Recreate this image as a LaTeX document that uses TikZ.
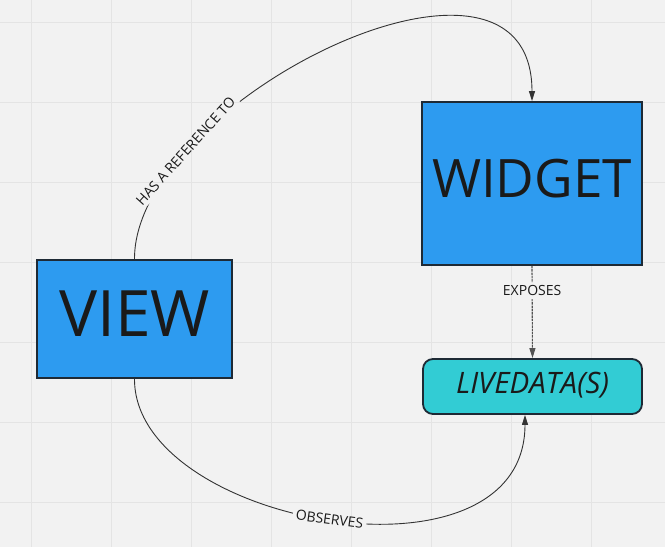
\documentclass[tikz,border=0pt]{standalone}
\usepackage{fontspec}
\setmainfont{Open Sans}
\usetikzlibrary{arrows.meta}
\definecolor{bgc}{HTML}{F2F2F2}
\definecolor{gridc}{HTML}{E4E4E4}
\definecolor{boxblue}{HTML}{2D9BF0}
\definecolor{boxteal}{HTML}{32CCD4}
\definecolor{edgec}{HTML}{1E2A35}
\definecolor{txt}{HTML}{1A1A1A}
\definecolor{connc}{HTML}{333333}
\begin{document}
\begin{tikzpicture}[x=1pt,y=-1pt,
  box/.style={draw=edgec, line width=1.8pt, fill=boxblue, inner sep=0pt},
  boxtext/.style={text=txt, anchor=base, inner sep=0pt},
  conn/.style={draw=connc, line width=0.9pt},
  tip/.style={-{Triangle[length=10pt,width=6pt]}},
  lbl/.style={text=txt, font=\fontsize{14}{16}\selectfont, inner sep=3pt, sloped}]
\useasboundingbox (0,0) rectangle (665,547);
\fill[bgc] (0,0) rectangle (665,547);
\foreach \x in {31.5,111.5,191.5,271.5,351.5,431.5,511.5,591.5}
  \draw[gridc, line width=1.2pt] (\x,0) -- (\x,547);
\foreach \y in {22.5,102.5,182.5,262.5,342.5,422.5,502.5}
  \draw[gridc, line width=1.2pt] (0,\y) -- (665,\y);
% boxes
\node[box, minimum width=195pt, minimum height=118pt] (view) at (134.5,319) {};
\node[boxtext, font=\fontsize{64}{70}\selectfont] (viewtxt) at ([yshift=-17pt]view.center) {VIEW};
\node[box, minimum width=220pt, minimum height=163pt] (widget) at (532,183.5) {};
\node[boxtext, font=\fontsize{53}{58}\selectfont] (widgettxt) at ([yshift=-14pt]widget.center) {WIDGET};
\node[box, fill=boxteal, rounded corners=10pt, minimum width=219pt, minimum height=55pt] (live) at (532.5,386.5) {};
\node[boxtext, font=\fontsize{29.5}{33}\selectfont\itshape] (livetxt) at ([yshift=-7pt]live.center) {LIVEDATA(S)};
% labels placed on the connector paths
\path (view.north) .. controls (134,100) and (532,-95) .. (widget.north)
  node[lbl, pos=0.225] (lref) {HAS A REFERENCE TO};
\path (widget.south) -- (live.north)
  node[lbl, sloped=false, pos=0.27] (lexp) {EXPOSES};
\path (view.south) .. controls (134,525) and (525,595) .. ([xshift=-7.5pt]live.south)
  node[lbl, pos=0.5] (lobs) {OBSERVES};
% connectors, with a gap where the label sits
\begin{scope}[even odd rule]
  \clip (0,0) rectangle (665,547)
    (lref.north west) -- (lref.north east) -- (lref.south east) -- (lref.south west) -- cycle;
  \draw[conn, tip] (view.north) .. controls (134,100) and (532,-95) .. (widget.north);
\end{scope}
\begin{scope}[even odd rule]
  \clip (0,0) rectangle (665,547)
    (lexp.north west) -- (lexp.north east) -- (lexp.south east) -- (lexp.south west) -- cycle;
  \draw[conn, tip, draw=gray!65!black, line width=1.1pt, dash pattern=on 2.5pt off 0.8pt] (widget.south) -- (live.north);
\end{scope}
\begin{scope}[even odd rule]
  \clip (0,0) rectangle (665,547)
    (lobs.north west) -- (lobs.north east) -- (lobs.south east) -- (lobs.south west) -- cycle;
  \draw[conn, tip] (view.south) .. controls (134,525) and (525,595) .. ([xshift=-7.5pt]live.south);
\end{scope}
\end{tikzpicture}
\end{document}
